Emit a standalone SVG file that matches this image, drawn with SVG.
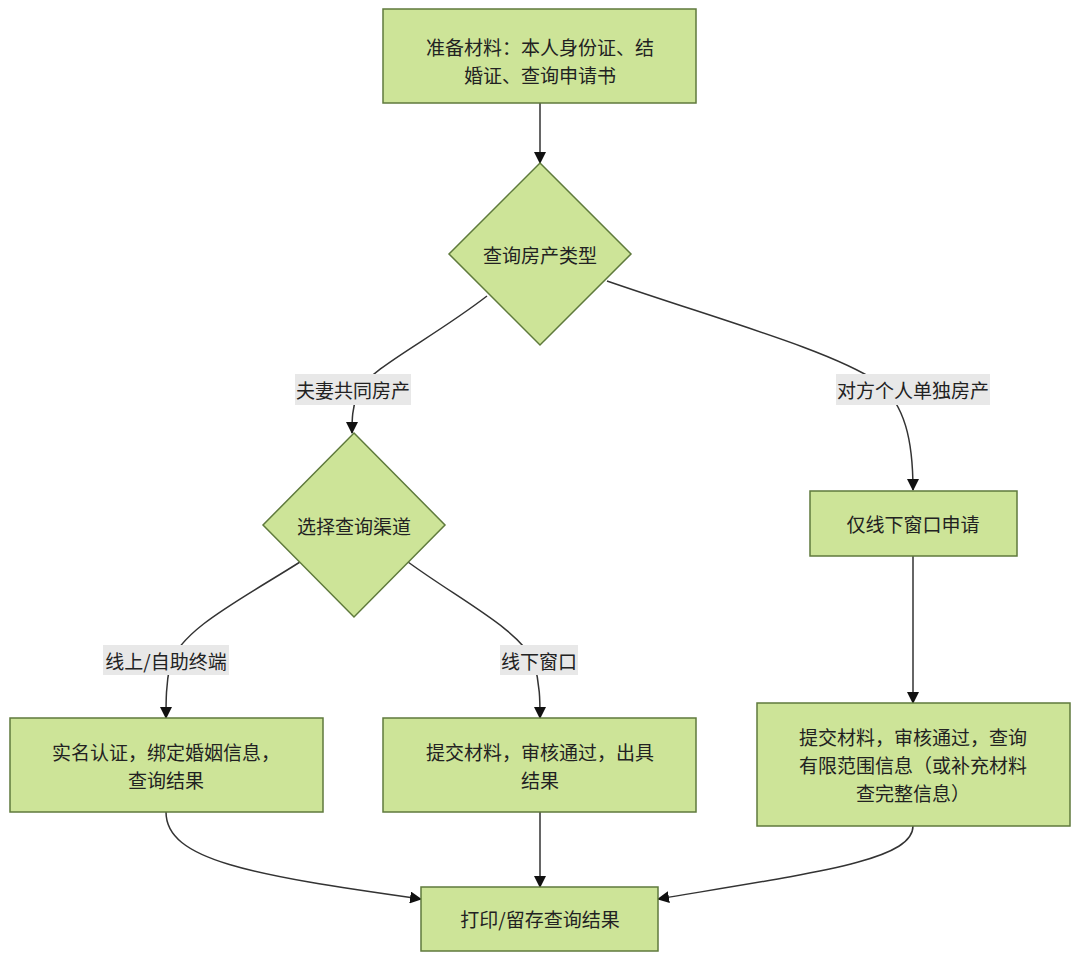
<svg xmlns="http://www.w3.org/2000/svg" width="1080" height="962" viewBox="0 0 1080 962">
<style>
.n{fill:#cde498;stroke:#5f7a3c;stroke-width:1.5}
.t{font-family:"Noto Sans CJK SC","Noto Sans",sans-serif;font-size:19px;fill:#222;text-anchor:middle;dominant-baseline:central}
.e{fill:none;stroke:#333;stroke-width:1.5}
.lb{fill:#e8e8e8}
</style>
<defs>
<marker id="a" markerWidth="12" markerHeight="12" refX="11" refY="6" orient="auto" markerUnits="userSpaceOnUse">
<path d="M0,0 L12,6 L0,12 z" fill="#111"/>
</marker>
</defs>
<rect width="1080" height="962" fill="#fff"/>
<g id="edges">
<path class="e" d="M540,103 L540,163" marker-end="url(#a)"/>
<path class="e" d="M487,296 C430,340 370,368 358,392 C352,408 352,420 352,433" marker-end="url(#a)"/>
<path class="e" d="M607,281 C720,320 830,350 878,382 C905,405 913,440 913,490" marker-end="url(#a)"/>
<path class="e" d="M300,562 C240,600 180,630 170,665 C166,685 166,700 166,718" marker-end="url(#a)"/>
<path class="e" d="M408,562 C460,600 520,630 534,662 C540,685 540,700 540,718" marker-end="url(#a)"/>
<path class="e" d="M913,556 L913,703" marker-end="url(#a)"/>
<path class="e" d="M540,812 L540,887" marker-end="url(#a)"/>
<path class="e" d="M166,812 C166,860 250,875 421,899" marker-end="url(#a)"/>
<path class="e" d="M913,826 C913,860 820,872 658,899" marker-end="url(#a)"/>
</g>
<g id="edge-labels">
<rect class="lb" x="295" y="374" width="116" height="31"/>
<text class="t" x="353" y="389">夫妻共同房产</text>
<rect class="lb" x="836" y="374" width="154" height="31"/>
<text class="t" x="913" y="389">对方个人单独房产</text>
<rect class="lb" x="103" y="645" width="126" height="30"/>
<text class="t" x="166" y="660">线上/自助终端</text>
<rect class="lb" x="500" y="645" width="78" height="30"/>
<text class="t" x="539" y="660">线下窗口</text>
</g>
<g id="n1">
<rect class="n" x="383" y="9" width="313" height="94"/>
<text class="t" x="540" y="46">准备材料：本人身份证、结</text>
<text class="t" x="540" y="74">婚证、查询申请书</text>
</g>
<g id="n2">
<polygon class="n" points="540,163 631,254 540,345 449,254"/>
<text class="t" x="540" y="254">查询房产类型</text>
</g>
<g id="n3">
<polygon class="n" points="354,433 445,525 354,617 263,525"/>
<text class="t" x="354" y="525">选择查询渠道</text>
</g>
<g id="n4">
<rect class="n" x="810" y="491" width="207" height="65"/>
<text class="t" x="913" y="523">仅线下窗口申请</text>
</g>
<g id="n5">
<rect class="n" x="10" y="718" width="313" height="94"/>
<text class="t" x="166" y="751">实名认证，绑定婚姻信息，</text>
<text class="t" x="166" y="779">查询结果</text>
</g>
<g id="n6">
<rect class="n" x="383" y="718" width="313" height="94"/>
<text class="t" x="540" y="751">提交材料，审核通过，出具</text>
<text class="t" x="540" y="779">结果</text>
</g>
<g id="n7">
<rect class="n" x="757" y="703" width="313" height="123"/>
<text class="t" x="913" y="736">提交材料，审核通过，查询</text>
<text class="t" x="913" y="764">有限范围信息（或补充材料</text>
<text class="t" x="913" y="792">查完整信息）</text>
</g>
<g id="n8">
<rect class="n" x="421" y="887" width="237" height="64"/>
<text class="t" x="540" y="918">打印/留存查询结果</text>
</g>
</svg>
